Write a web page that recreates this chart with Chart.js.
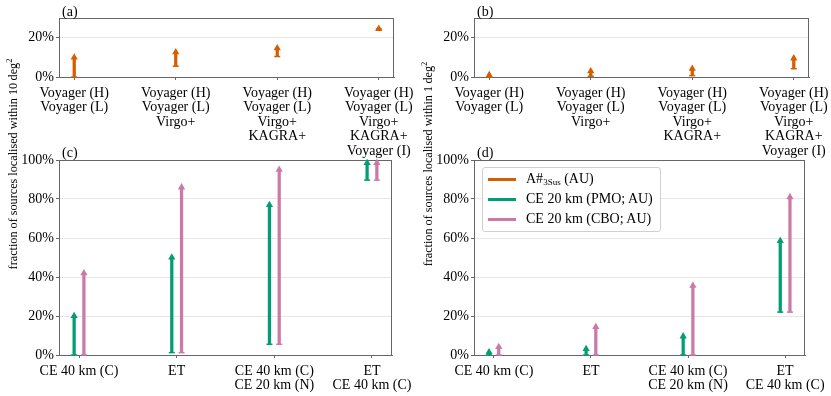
<!DOCTYPE html>
<html>
<head>
<meta charset="utf-8">
<script src="https://cdn.jsdelivr.net/npm/chart.js@4.4.0/dist/chart.umd.min.js"></script>
<style>
  body { margin: 0; background: #fff; font-family: 'Liberation Serif', 'Times New Roman', serif; color: #000; }
  #wrap { position: relative; width: 831px; height: 396px; overflow: hidden; }
  #wrap canvas { position: absolute; }
  .tag { position: absolute; font-size: 14px; line-height: 15px; }
  .ylab { position: absolute; width: 280px; text-align: center; font-size: 12.2px; line-height: 16px;
          white-space: nowrap; transform: rotate(-90deg); }
  .ylab sup { font-size: 8.5px; line-height: 0; }
  .legend { position: absolute; left: 482px; top: 167px; width: 177px; height: 63px;
            border: 1px solid #d0d0d0; border-radius: 3px; background: rgba(255,255,255,0.85); }
  .legend .row { position: absolute; left: 0; height: 20px; font-size: 14px; line-height: 20px; white-space: nowrap; }
  .legend .swatch { position: absolute; left: 5px; top: 9px; width: 28px; height: 2.5px; }
  .legend .txt { position: absolute; left: 43px; top: 0; }
  .legend sub { font-size: 9px; vertical-align: -2px; line-height: 0; }
</style>
</head>
<body>
<div id="wrap">
  <canvas id="cA" width="415" height="160" style="left:0;top:0"></canvas>
  <canvas id="cB" width="416" height="160" style="left:415px;top:0"></canvas>
  <canvas id="cC" width="415" height="246" style="left:0;top:150px"></canvas>
  <canvas id="cD" width="416" height="246" style="left:415px;top:150px"></canvas>
  <div class="tag" style="left:62px;top:4px">(a)</div>
  <div class="tag" style="left:477px;top:4px">(b)</div>
  <div class="tag" style="left:62px;top:145px">(c)</div>
  <div class="tag" style="left:477px;top:145px">(d)</div>
  <div class="ylab" style="left:-127px;top:156px">fraction of sources localised within 10&#8201;deg<sup>2</sup></div>
  <div class="ylab" style="left:288px;top:156px">fraction of sources localised within 1&#8201;deg<sup>2</sup></div>
  <div class="legend" id="legend"></div>
</div>
<script>
const TOP_CATS = [
  ['Voyager (H)', 'Voyager (L)'],
  ['Voyager (H)', 'Voyager (L)', 'Virgo+'],
  ['Voyager (H)', 'Voyager (L)', 'Virgo+', 'KAGRA+'],
  ['Voyager (H)', 'Voyager (L)', 'Virgo+', 'KAGRA+', 'Voyager (I)'],
];
const BOTTOM_CATS = [
  ['CE 40 km (C)'],
  ['ET'],
  ['CE 40 km (C)', 'CE 20 km (N)'],
  ['ET', 'CE 40 km (C)'],
];

const SERIES_HTML = ['A#<sub>3Sus</sub> (AU)', 'CE 20 km (PMO; AU)', 'CE 20 km (CBO; AU)'];
const COLORS = ['#d55e00', '#009e73', '#cc79a7'];

// (a) within 10 deg^2, (b) within 1 deg^2 -- percentages, lower / upper
const A_LO = [0, 5.5, 10.4, 24.5];
const A_HI = [10, 12.6, 14.7, 24.5];
const B_LO = [0, 0.4, 0.7, 4.2];
const B_HI = [1.0, 3.0, 4.2, 9.5];

// (c) within 10 deg^2, (d) within 1 deg^2
const C_PMO_LO = [0, 1.2, 5.5, 89.7];
const C_PMO_HI = [20, 50, 77, 98.5];
const C_CBO_LO = [0, 1.2, 5.5, 89.7];
const C_CBO_HI = [42, 86, 95, 98.5];
const D_PMO_LO = [0, 0, 0, 22];
const D_PMO_HI = [1.5, 3.1, 9.6, 58.5];
const D_CBO_LO = [0, 0, 0, 22];
const D_CBO_HI = [4.1, 14.4, 35.6, 81];

const TOP_YMAX = 30;
const BOTTOM_YMAX = 100;
const SHIFT = 0.05;

Chart.defaults.font.family = "'Liberation Serif', 'Times New Roman', serif";
Chart.defaults.font.size = 14;
Chart.defaults.color = '#000';

const frame = {
  id: 'frame',
  beforeDatasetsDraw(chart) {
    const { ctx, chartArea: a } = chart;
    ctx.save();
    ctx.strokeStyle = '#666';
    ctx.lineWidth = 1;
    ctx.strokeRect(Math.round(a.left) + 0.5, Math.round(a.top) + 0.5,
                   Math.round(a.right - a.left) - 1, Math.round(a.bottom - a.top));
    ctx.restore();
  }
};

function arrowSets(xs, lo, hi, color) {
  return [
    { type: 'bar', data: xs.map((x, i) => ({ x, y: [lo[i], hi[i]] })),
      backgroundColor: color, barThickness: 2.6, grouped: false, clip: false },
    { type: 'scatter', data: xs.map((x, i) => ({ x, y: hi[i] })),
      pointStyle: 'triangle', pointRadius: 4.2, backgroundColor: color, borderWidth: 0, clip: false },
    { type: 'scatter', data: xs.map((x, i) => ({ x, y: lo[i] })),
      pointStyle: 'line', pointRadius: 3, borderColor: color, borderWidth: 1.5, clip: false },
  ];
}

// box: canvas size + plot area inside the canvas
function makeChart(id, box, xRange, yMax, cats, datasets) {
  new Chart(document.getElementById(id), {
    type: 'scatter',
    data: { datasets },
    options: {
      responsive: false,
      animation: false,
      events: [],
      layout: { padding: { top: box.t, right: box.w - box.r, left: 0, bottom: 0 } },
      plugins: { legend: { display: false }, tooltip: { enabled: false } },
      scales: {
        x: {
          type: 'linear', min: xRange[0], max: xRange[1], offset: false,
          afterBuildTicks: s => { s.ticks = cats.map((_, i) => ({ value: i })); },
          afterFit: s => { s.height = box.h - box.b; s.paddingLeft = 0; s.paddingRight = 0; },
          grid: { drawOnChartArea: false, tickLength: 3, color: '#666', offset: false },
          border: { color: '#666' },
          ticks: { autoSkip: false, maxRotation: 0, minRotation: 0, padding: 6,
                   font: { size: 14, lineHeight: 1.03 }, callback: v => cats[v] }
        },
        y: {
          min: 0, max: yMax,
          afterFit: s => { s.width = box.l; s.paddingTop = 0; s.paddingBottom = 0; },
          grid: { color: '#e6e6e6', tickColor: '#666', tickLength: 3 },
          border: { color: '#666' },
          ticks: { stepSize: 10, padding: 2, font: { size: 14 },
                   callback: v => (v % 20 === 0 ? v + '%' : '') }
        }
      }
    },
    plugins: [frame]
  });
}

const topX = [0, 1, 2, 3];
const pmoX = topX.map(x => x - SHIFT);
const cboX = topX.map(x => x + SHIFT);

makeChart('cA', { w: 415, h: 160, l: 59, t: 18, r: 394, b: 77 }, [-0.15, 3.15], TOP_YMAX, TOP_CATS,
  arrowSets(topX, A_LO, A_HI, COLORS[0]));
makeChart('cB', { w: 416, h: 160, l: 59, t: 18, r: 394, b: 77 }, [-0.15, 3.15], TOP_YMAX, TOP_CATS,
  arrowSets(topX, B_LO, B_HI, COLORS[0]));
makeChart('cC', { w: 415, h: 246, l: 59, t: 10, r: 392, b: 205 }, [-0.205, 3.205], BOTTOM_YMAX, BOTTOM_CATS,
  [...arrowSets(pmoX, C_PMO_LO, C_PMO_HI, COLORS[1]), ...arrowSets(cboX, C_CBO_LO, C_CBO_HI, COLORS[2])]);
makeChart('cD', { w: 416, h: 246, l: 59, t: 10, r: 390, b: 205 }, [-0.205, 3.205], BOTTOM_YMAX, BOTTOM_CATS,
  [...arrowSets(pmoX, D_PMO_LO, D_PMO_HI, COLORS[1]), ...arrowSets(cboX, D_CBO_LO, D_CBO_HI, COLORS[2])]);

const legend = document.getElementById('legend');
SERIES_HTML.forEach((name, i) => {
  const row = document.createElement('div');
  row.className = 'row';
  row.style.top = (1 + i * 20) + 'px';
  row.innerHTML = `<div class="swatch" style="background:${COLORS[i]}"></div><div class="txt">${name}</div>`;
  legend.appendChild(row);
});
</script>
</body>
</html>
